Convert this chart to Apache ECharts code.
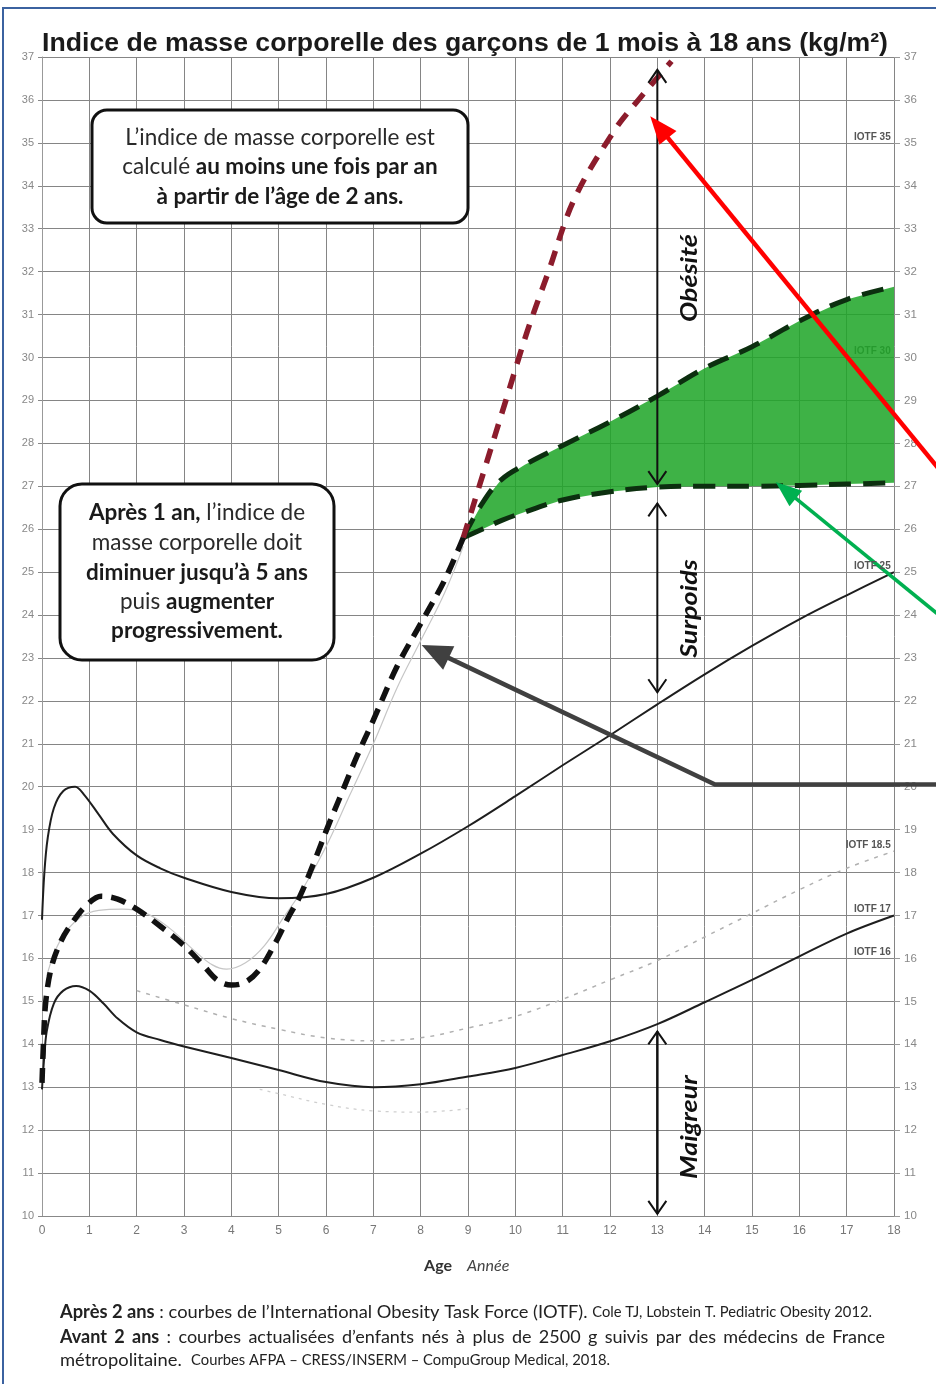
<!DOCTYPE html>
<html><head><meta charset="utf-8">
<script src="https://cdn.jsdelivr.net/npm/echarts@6/dist/echarts.min.js"></script>
<style>html,body{margin:0;padding:0;background:#fff}#c{width:936px;height:1384px}</style>
</head><body><div id="c"></div>
<script>
// ---------- data ----------
const xTicks = [0,1,2,3,4,5,6,7,8,9,10,11,12,13,14,15,16,17,18];
const yTicks = [10,11,12,13,14,15,16,17,18,19,20,21,22,23,24,25,26,27,28,29,30,31,32,33,34,35,36,37];
const iotf25Curve = [[0,16.9],[0.05,18.0],[0.12,18.8],[0.25,19.5],[0.45,19.9],[0.7,20.0],[0.9,19.8],[1.2,19.35],[1.5,18.9],[2,18.4],[2.5,18.1],[3,17.88],[4,17.55],[5,17.4],[6,17.5],[7,17.88],[8,18.44],[9,19.08],[10,19.78],[11,20.5],[12,21.2],[13,21.92],[14,22.62],[15,23.28],[16,23.9],[17,24.46],[18,25.0]];
const iotf17Curve = [[0,12.95],[0.04,13.6],[0.1,14.3],[0.25,14.95],[0.45,15.25],[0.72,15.36],[1.0,15.25],[1.3,14.95],[1.6,14.6],[2.0,14.28],[2.5,14.1],[3,13.95],[4,13.68],[5,13.4],[6,13.12],[7,13.0],[8,13.07],[9,13.25],[10,13.45],[11,13.75],[12,14.07],[13,14.47],[14,14.98],[15,15.5],[16,16.05],[17,16.58],[18,17.0]];
const iotf185Curve = [[2,15.25],[3,14.92],[4,14.6],[5,14.35],[6,14.15],[7,14.08],[8,14.15],[9,14.38],[10,14.65],[11,15.05],[12,15.5],[13,15.95],[14,16.5],[15,17.05],[16,17.6],[17,18.1],[18,18.5]];
const iotf16Faint = [[4.6,12.95],[5,12.85],[6,12.6],[7,12.45],[8,12.42],[9,12.5]];
const pencilCurve = [[0.1,15.6],[0.4,16.45],[0.8,16.95],[1.2,17.12],[1.7,17.15],[2.2,17.05],[2.7,16.7],[3.2,16.2],[3.6,15.85],[3.9,15.75],[4.3,15.9],[4.7,16.3],[5.1,16.95],[5.5,17.6],[6,18.6],[6.5,19.8],[7,21.0],[7.5,22.3],[8,23.4],[8.5,24.5],[8.9,25.6]];
const childCurve = [[0.0,13.1],[0.03,14.0],[0.08,15.0],[0.2,15.8],[0.4,16.4],[0.65,16.85],[0.95,17.25],[1.25,17.45],[1.6,17.38],[2.0,17.15],[2.5,16.75],[3.0,16.3],[3.4,15.85],[3.7,15.5],[4.0,15.38],[4.3,15.45],[4.6,15.75],[4.9,16.3],[5.2,16.95],[5.45,17.45],[5.75,18.25],[6.05,19.1],[6.35,19.9],[6.65,20.7],[7.0,21.55],[7.5,22.8],[8.0,23.8],[8.5,24.8],[8.9,25.8]];
const redCurve = [[8.9,25.8],[9.35,27.4],[9.8,29.0],[10.25,30.6],[10.7,32.0],[11.25,33.7],[12.1,35.3],[12.6,36.0],[13.3,36.9]];
const greenX    = [8.9, 9.3, 9.7, 10.2, 11, 12, 13, 14, 15, 16, 17, 18];
const greenHigh = [25.8, 26.6, 27.15, 27.5, 27.95, 28.5, 29.1, 29.75, 30.25, 30.85, 31.35, 31.65];
const greenLow  = [25.8, 26.0, 26.2, 26.4, 26.68, 26.87, 26.98, 27.0, 27.0, 27.02, 27.05, 27.08];
const iotfLabels = ['IOTF 35','IOTF 30','IOTF 25','IOTF 18.5','IOTF 17','IOTF 16'];
const iotfLevels = [35,30,25,18.5,17,16];
const zoneLabels = ['Obésité','Surpoids','Maigreur'];

const pairs = (xs, ys) => xs.map((x,i)=>[x, ys[i]]);

const chart = echarts.init(document.getElementById('c'), null, {renderer:'canvas'});
const gridCol = '#858585';
const option = {
  animation:false,
  backgroundColor:'#ffffff',
  grid:{left:42,right:42,top:57,bottom:168},
  xAxis:{type:'value',min:0,max:18,interval:1,
    axisLine:{show:true,lineStyle:{color:'#888'}},axisTick:{show:false},
    axisLabel:{color:'#777',fontSize:12,margin:9,fontFamily:'Liberation Sans',formatter:v=>xTicks.includes(v)?String(v):''},
    splitLine:{show:true,lineStyle:{color:gridCol,width:1}}},
  yAxis:[
    {type:'value',min:10,max:37,interval:1,position:'left',
      axisLine:{show:true,lineStyle:{color:'#999'}},axisTick:{show:true,length:4,lineStyle:{color:'#888'}},
      axisLabel:{color:'#888',fontSize:11,margin:8,fontFamily:'Liberation Sans',formatter:v=>yTicks.includes(v)?String(v):''},
      splitLine:{show:true,lineStyle:{color:gridCol,width:1}}},
    {type:'value',min:10,max:37,interval:1,position:'right',
      axisLine:{show:false},axisTick:{show:true,length:6,lineStyle:{color:'#999'}},
      axisLabel:{color:'#888',fontSize:11.5,margin:10,padding:[5,0,0,0],fontFamily:'Liberation Sans',formatter:v=>yTicks.includes(v)?String(v):''},
      splitLine:{show:false}}
  ],
  series:[
    {type:'custom',silent:true,z:1,data:[[greenX[0],greenLow[0]]],
      renderItem:(params,api)=>{
        const pts=[];
        for(let i=0;i<greenX.length;i++) pts.push(api.coord([greenX[i],greenHigh[i]]));
        for(let i=greenX.length-1;i>=0;i--) pts.push(api.coord([greenX[i],greenLow[i]]));
        return {type:'polygon',shape:{points:pts},style:{fill:'rgba(30,165,40,0.86)'}};
      }},
    {type:'line',data:iotf16Faint,smooth:0.4,symbol:'none',z:2,lineStyle:{color:'#cfcfcf',width:1.3,type:[3,5]}},
    {type:'line',data:iotf185Curve,smooth:0.4,symbol:'none',z:2,lineStyle:{color:'#b0b0b0',width:1.5,type:[4,6]}},
    {type:'line',data:pencilCurve,smooth:0.4,symbol:'none',z:2,lineStyle:{color:'#c6c6c6',width:1.2}},
    {type:'line',data:iotf25Curve,smooth:0.35,symbol:'none',z:3,lineStyle:{color:'#1e1e1e',width:2}},
    {type:'line',data:iotf17Curve,smooth:0.35,symbol:'none',z:3,lineStyle:{color:'#1e1e1e',width:2}},
    {type:'line',data:pairs(greenX,greenHigh),smooth:0.4,symbol:'none',z:4,lineStyle:{color:'#0c2f0f',width:5,type:[22,12]}},
    {type:'line',data:pairs(greenX,greenLow),smooth:0.4,symbol:'none',z:4,lineStyle:{color:'#0c2f0f',width:5,type:[22,12]}},
    {type:'line',data:redCurve,smooth:0.35,symbol:'none',z:4,lineStyle:{color:'#8c1c2c',width:5.5,type:[15,11]}},
    {type:'line',data:childCurve,smooth:0.35,symbol:'none',z:5,lineStyle:{color:'#111',width:5.5,type:[15,9]}}
  ]
};
chart.setOption(option);

// ---------- annotations ----------
const P = (x,y)=>chart.convertToPixel({gridIndex:0},[x,y]);
const ctx = document.createElement('canvas').getContext('2d');
const mw = (font,s)=>{ctx.font=font;return ctx.measureText(s).width;};
const G = [];
const line = (a,b,color,w,z)=>G.push({type:'line',z:z||10,shape:{x1:a[0],y1:a[1],x2:b[0],y2:b[1]},style:{stroke:color,lineWidth:w}});
function fillHead(tip,from,len,half,color){
  const dx=tip[0]-from[0],dy=tip[1]-from[1],L=Math.hypot(dx,dy),ux=dx/L,uy=dy/L;
  const bx=tip[0]-ux*len,by=tip[1]-uy*len,px=-uy,py=ux;
  G.push({type:'polygon',z:11,shape:{points:[tip,[bx+px*half,by+py*half],[bx-px*half,by-py*half]]},style:{fill:color}});
  return [bx+ux*2,by+uy*2];
}
function vHead(tip,dir){ // dir=+1 pointing up
  G.push({type:'polyline',z:11,shape:{points:[[tip[0]-9,tip[1]+dir*13],tip,[tip[0]+9,tip[1]+dir*13]]},style:{stroke:'#111',lineWidth:2,fill:null}});
}
function segLine(segs,x0,y,scale){
  let x=x0;
  segs.forEach(([t,f])=>{G.push({type:'text',z:10,x:x,y:y,scaleX:scale,style:{text:t,font:f,fill:'#222',align:'left',verticalAlign:'middle'}});x+=mw(f,t)*scale;});
  return x;
}
// frame
G.push({type:'rect',z:0,shape:{x:3,y:8,width:960,height:1420},style:{stroke:'#3b62a0',lineWidth:2,fill:null}});
// title
const titleTxt='Indice de masse corporelle des garçons de 1 mois à 18 ans (kg/m²)';
const tFont='bold 25px "Liberation Sans"';
G.push({type:'text',z:10,x:42,y:44,scaleX:846/mw(tFont,titleTxt),style:{text:titleTxt,font:tFont,fill:'#1a1a1a',align:'left',verticalAlign:'middle'}});
// double arrows
const ax=13;
let a1=P(ax,36.7),a2=P(ax,27.05);line(a1,a2,'#111',2);vHead(a1,1);vHead(a2,-1);
let b1=P(ax,26.6),b2=P(ax,22.2);line(b1,b2,'#111',2);vHead(b1,1);vHead(b2,-1);
let c1=P(ax,14.3),c2=P(ax,10.05);line(c1,c2,'#111',2.5);vHead(c1,1);vHead(c2,-1);
// zone labels
const zf='italic bold 23px Lato';
[[zoneLabels[0],31.85],[zoneLabels[1],24.15],[zoneLabels[2],12.07]].forEach(([t,v])=>{
  const p=P(13.69,v);
  G.push({type:'text',z:10,x:p[0],y:p[1],rotation:Math.PI/2,scaleX:1.17,style:{text:t,font:zf,fill:'#111',align:'center',verticalAlign:'middle'}});
});
// red arrow
{const tip=P(12.85,35.62),from=P(18.95,27.4);const e=fillHead(tip,from,28,11,'#ff0000');line(from,e,'#ff0000',4.5,10);}
// green arrow
{const tip=P(15.5,27.1),from=P(18.95,24.0);const e=fillHead(tip,from,26,10,'#00b050');line(from,e,'#00b050',3.5,10);}
// grey arrow
{const tip=P(8.02,23.3),corner=P(14.22,20.05),from=P(18.95,20.05);const e=fillHead(tip,corner,30,13,'#404040');
 G.push({type:'polyline',z:10,shape:{points:[from,corner,e]},style:{stroke:'#404040',lineWidth:4.5,fill:null}});}
// IOTF labels
iotfLabels.forEach((t,i)=>{
  const p=P(17.93,iotfLevels[i]);
  G.push({type:'text',z:i===1?0:10,x:p[0],y:p[1]-1,style:{text:t,font:'bold 10px "Liberation Sans"',fill:'#555',align:'right',verticalAlign:'bottom'}});
});
// boxes
const BF=22.5;
const rich={b:{fontWeight:'bold',fontFamily:'Lato',fontSize:BF,fill:'#1a1a1a',color:'#1a1a1a'},r:{fontFamily:'Lato',fontSize:BF,fill:'#2a2a2a',color:'#2a2a2a'}};
G.push({type:'rect',z:9,shape:{x:92,y:110,width:376,height:113,r:15},style:{fill:'#fff',stroke:'#111',lineWidth:3}});
[['{r|L’indice de masse corporelle est}',138],['{r|calculé }{b|au moins une fois par an}',167],['{b|à partir de l’âge de 2 ans.}',197]].forEach(([t,y])=>{
  G.push({type:'text',z:10,x:280,y:y,style:{text:t,rich:rich,font:BF+'px Lato',align:'center',verticalAlign:'middle'}});
});
G.push({type:'rect',z:9,shape:{x:60,y:484,width:274,height:176,r:22},style:{fill:'#fff',stroke:'#111',lineWidth:3}});
[['{b|Après 1 an,}{r| l’indice de}',513],['{r|masse corporelle doit}',543],['{b|diminuer jusqu’à 5 ans}',573],['{r|puis }{b|augmenter}',602],['{b|progressivement.}',631]].forEach(([t,y])=>{
  G.push({type:'text',z:10,x:197,y:y,style:{text:t,rich:rich,font:BF+'px Lato',align:'center',verticalAlign:'middle'}});
});
// axis title
G.push({type:'text',z:10,x:452,y:1266,style:{text:'Age',font:'bold 16px Lato',fill:'#333',align:'right',verticalAlign:'middle'}});
G.push({type:'text',z:10,x:467,y:1266,style:{text:'Année',font:'italic 16px Lato',fill:'#444',align:'left',verticalAlign:'middle'}});
// footer
const fB='bold 18px Lato',fR='18px Lato',fS='14.5px Lato';
{
  const segs=[['Après 2 ans',fB],[' : courbes de l’International Obesity Task Force (IOTF). ',fR],['Cole TJ, Lobstein T. Pediatric Obesity 2012.',fS]];
  const w=segs.reduce((a,[t,f])=>a+mw(f,t),0);
  segLine(segs,60,1312,(872-60)/w);
}
{
  const words=[['Avant',1],['2',1],['ans',1],[':',0],['courbes',0],['actualisées',0],['d’enfants',0],['nés',0],['à',0],['plus',0],['de',0],['2500',0],['g',0],['suivis',0],['par',0],['des',0],['médecins',0],['de',0],['France',0]];
  const ws=words.map(([w,b])=>mw(b?fB:fR,w));
  const tot=ws.reduce((a,b)=>a+b,0);
  const sc=Math.min(1,(885-60-words.length*4)/tot);
  const gap=(885-60-tot*sc)/(words.length-1);
  let x=60;
  words.forEach(([w,b],i)=>{G.push({type:'text',z:10,x:x,y:1337,scaleX:sc,style:{text:w,font:b?fB:fR,fill:'#222',align:'left',verticalAlign:'middle'}});x+=ws[i]*sc+gap;});
}
{
  const segs=[['métropolitaine.  ',fR],['Courbes AFPA – CRESS/INSERM – CompuGroup Medical, 2018.',fS]];
  const w=segs.reduce((a,[t,f])=>a+mw(f,t),0);
  segLine(segs,60,1360,(610-60)/w);
}

chart.setOption({graphic:{elements:G}});
</script></body></html>
